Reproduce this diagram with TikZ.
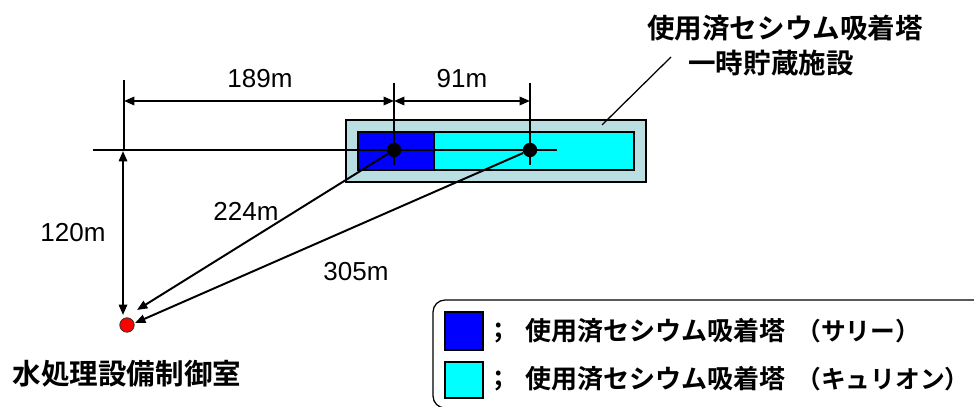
\documentclass[tikz,border=0pt]{standalone}
\usepackage{fontspec}
\setmainfont{Liberation Sans}
\newfontfamily\jpfont{Noto Sans CJK JP Bold}
\usetikzlibrary{arrows.meta, positioning}

\definecolor{padblue}{HTML}{B9DFE3}
\definecolor{sallyblue}{HTML}{0000FF}
\definecolor{kurioncyan}{HTML}{00FFFF}

\begin{document}
\begin{tikzpicture}[x=0.025cm, y=-0.025cm,
  dimline/.style = {{Triangle[length=2.6mm, width=2.1mm]}-{Triangle[length=2.6mm, width=2.1mm]}, line width=1.4pt},
  distline/.style = {-{Triangle[length=2.6mm, width=2.1mm]}, line width=1.4pt},
  thin/.style = {line width=0.75pt},
  tower/.style = {rectangle, draw=black, line width=0.9pt, inner sep=0pt, minimum height=0.95cm},
  pt/.style   = {circle, fill=black, inner sep=0pt, minimum size=0.36cm},
  num/.style  = {font=\fontsize{18.5pt}{20pt}\selectfont, inner sep=0pt},
  jp/.style   = {font=\jpfont\fontsize{19.6pt}{22pt}\selectfont, inner sep=0pt},
  jpleg/.style = {font=\jpfont\fontsize{18.5pt}{21pt}\selectfont, inner sep=0pt, anchor=west},
  jpname/.style = {jpleg, font=\jpfont\fontsize{17.6pt}{21pt}\selectfont},
]
  \clip (0,0) rectangle (974,407);

  % storage facility
  \node[rectangle, draw=black, line width=0.9pt, fill=padblue,
        minimum width=7.5cm, minimum height=1.55cm] (pad) at (496,151) {};
  \node[tower, fill=sallyblue,  minimum width=1.9cm] (sally)  at (396,151) {};
  \node[tower, fill=kurioncyan, minimum width=5cm]   (kurion) at (534,151) {};

  % reference lines
  \coordinate (axisL) at (93,150);
  \coordinate (axisR) at (557,150);
  \draw[thin] (axisL) -- (axisR);
  \coordinate (extO) at (124,80);
  \coordinate (extA) at (394,83);
  \coordinate (extB) at (530,83);
  \coordinate (baseO) at (124,150);
  \coordinate (baseA) at (394,165);
  \coordinate (baseB) at (530,165);
  \draw[thin] (extO) -- (baseO);
  \draw[thin] (extA) -- (baseA);
  \draw[thin] (extB) -- (baseB);

  \node[pt] (dotA) at (394,150) {};
  \node[pt] (dotB) at (530,150) {};

  % control room
  \node[circle, draw=black!80, line width=0.6pt, fill=red, inner sep=0pt,
        minimum size=0.36cm] (ctrl) at (127,325) {};
  \node[jp, font=\jpfont\fontsize{20.3pt}{22pt}\selectfont] (ctrlname) at (127,374) {水処理設備制御室};

  % dimensions
  \coordinate (dimO) at (124,101);
  \coordinate (dimA) at (394,101);
  \coordinate (dimB) at (530,101);
  \draw[dimline] (dimO) -- (dimA);
  \draw[dimline] (dimA) -- (dimB);
  \node[num] (d189) at (260,79) {189m};
  \node[num] (d91)  at (462,79) {91m};

  \coordinate (vTop) at (123,151);
  \coordinate (vBot) at (123,315);
  \draw[dimline] (vTop) -- (vBot);
  \node[num] (d120) at (73,233) {120m};

  \coordinate (tipA) at (137,310);
  \coordinate (tipB) at (135,323);
  \draw[distline] (dotA) -- (tipA);
  \draw[distline] (dotB) -- (tipB);
  \node[num] (d224) at (246,211) {224m};
  \node[num] (d305) at (356,272) {305m};

  % facility label
  \node[jp] (title1) at (785,28) {使用済セシウム吸着塔};
  \node[jp] (title2) at (771,63) {一時貯蔵施設};
  \coordinate (leadA) at (602,125);
  \coordinate (leadB) at (671,57);
  \draw[line width=0.9pt] (leadA) -- (leadB);

  % legend
  \draw[line width=0.9pt, rounded corners=0.3cm] (433,300) rectangle (1000,408);
  \node[tower, fill=sallyblue,  minimum width=0.95cm, minimum height=0.95cm] (keyS) at (464,331) {};
  \node[tower, fill=kurioncyan, minimum width=0.95cm, minimum height=0.9cm]  (keyK) at (464,380) {};
  \node[jpleg] (semiS) at (494,333) {;};
  \node[jpleg] (semiK) at (494,381) {;};
  \node[jpleg] (txtS) at (525,331) {使用済セシウム吸着塔};
  \node[jpleg] (txtK) at (525,379) {使用済セシウム吸着塔};
  \node[jpname] (nameS) at (796,331) {（サリー）};
  \node[jpname] (nameK) at (796,379) {（キュリオン）};
\end{tikzpicture}
\end{document}
